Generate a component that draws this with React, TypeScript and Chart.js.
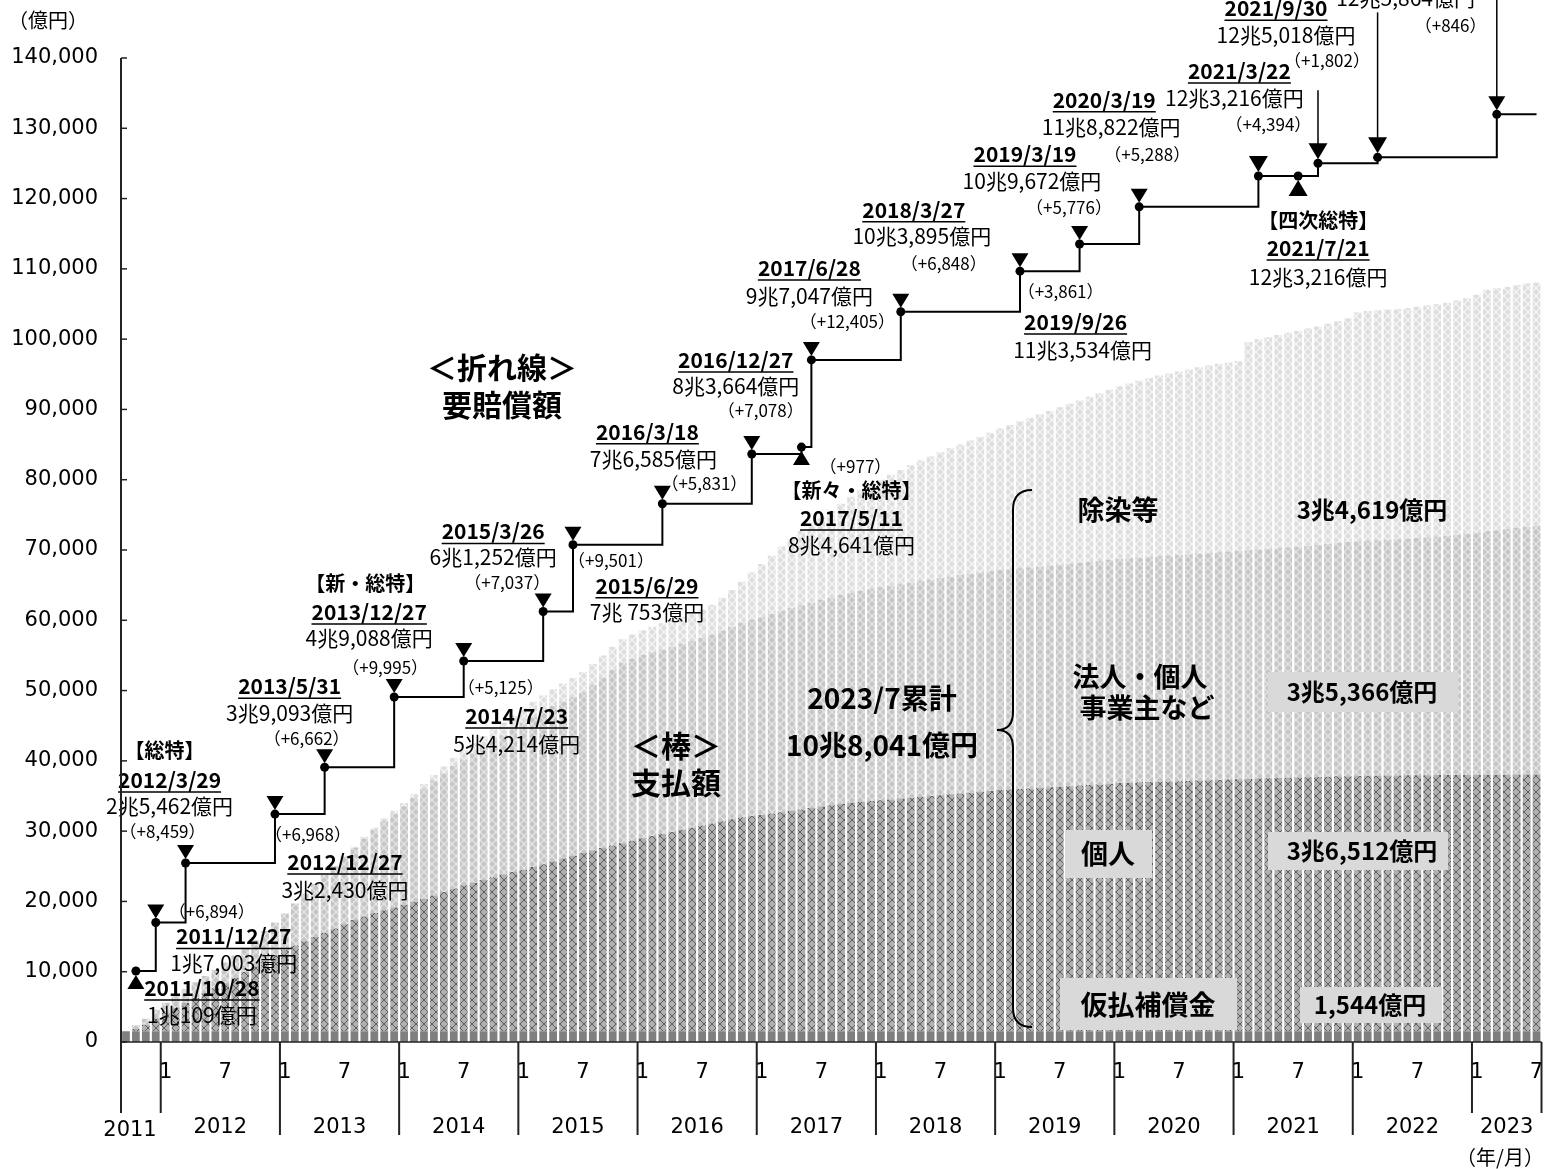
import React, { useEffect, useRef } from "react";
import { Chart, registerables } from "chart.js";
Chart.register(...registerables);

// ---------- categories (monthly, 2011/9 .. 2023/7) ----------
const START_YEAR = 2011;
const START_MONTH = 9;
const END_YEAR = 2023;
const END_MONTH = 7;
const CATEGORIES: string[] = [];
for (let y = START_YEAR; y <= END_YEAR; y++) {
  const m0 = y === START_YEAR ? START_MONTH : 1;
  const m1 = y === END_YEAR ? END_MONTH : 12;
  for (let m = m0; m <= m1; m++) CATEGORIES.push(`${y}/${m}`);
}
const YEARS = [2011, 2012, 2013, 2014, 2015, 2016, 2017, 2018, 2019, 2020, 2021, 2022, 2023];
const MONTH_TICKS = ["1", "7"];
const Y_TICKS = [0, 10000, 20000, 30000, 40000, 50000, 60000, 70000, 80000, 90000, 100000, 110000, 120000, 130000, 140000];

// ---------- bar series (億円, cumulative) ----------
const KARIBARAI = [
  1544, 1544, 1544, 1544,
  1544, 1544, 1544, 1544, 1544, 1544, 1544, 1544, 1544, 1544, 1544, 1544,
  1544, 1544, 1544, 1544, 1544, 1544, 1544, 1544, 1544, 1544, 1544, 1544,
  1544, 1544, 1544, 1544, 1544, 1544, 1544, 1544, 1544, 1544, 1544, 1544,
  1544, 1544, 1544, 1544, 1544, 1544, 1544, 1544, 1544, 1544, 1544, 1544,
  1544, 1544, 1544, 1544, 1544, 1544, 1544, 1544, 1544, 1544, 1544, 1544,
  1544, 1544, 1544, 1544, 1544, 1544, 1544, 1544, 1544, 1544, 1544, 1544,
  1544, 1544, 1544, 1544, 1544, 1544, 1544, 1544, 1544, 1544, 1544, 1544,
  1544, 1544, 1544, 1544, 1544, 1544, 1544, 1544, 1544, 1544, 1544, 1544,
  1544, 1544, 1544, 1544, 1544, 1544, 1544, 1544, 1544, 1544, 1544, 1544,
  1544, 1544, 1544, 1544, 1544, 1544, 1544, 1544, 1544, 1544, 1544, 1544,
  1544, 1544, 1544, 1544, 1544, 1544, 1544, 1544, 1544, 1544, 1544, 1544,
  1544, 1544, 1544, 1544, 1544, 1544, 1544,
];
const KOJIN = [
  0, 300, 900, 1800,
  2600, 3300, 4000, 4700, 5400, 6100, 6800, 7600, 8400, 9200, 10000, 10800,
  11550, 12200, 12800, 13400, 14000, 14600, 15200, 15800, 16300, 16800, 17200, 17600,
  18000, 18400, 18800, 19300, 19800, 20300, 20750, 21100, 21500, 21900, 22300, 22650,
  22950, 23350, 23750, 24150, 24550, 24950, 25350, 25700, 26050, 26400, 26750, 27100,
  27450, 27750, 28050, 28350, 28650, 28950, 29250, 29550, 29850, 30150, 30450, 30600,
  30750, 30950, 31150, 31350, 31550, 31750, 31950, 32150, 32350, 32500, 32650, 32750,
  32850, 32970, 33090, 33210, 33330, 33450, 33570, 33690, 33810, 33930, 34050, 34180,
  34300, 34380, 34460, 34540, 34620, 34700, 34780, 34860, 34940, 35020, 35100, 35200,
  35300, 35350, 35400, 35440, 35480, 35520, 35560, 35600, 35650, 35700, 35750, 35800,
  35850, 35890, 35930, 35970, 36010, 36050, 36090, 36130, 36170, 36210, 36250, 36280,
  36300, 36320, 36340, 36360, 36380, 36400, 36410, 36420, 36430, 36440, 36450, 36460,
  36470, 36475, 36480, 36490, 36500, 36505, 36512,
];
const HOUJIN = [
  0, 550, 850, 1250,
  1450, 1650, 1950, 2250, 2450, 2650, 2950, 3150, 3450, 3750, 4250, 4650,
  5200, 5950, 6750, 7550, 8250, 8850, 9600, 10250, 11100, 11850, 12700, 13350,
  14000, 14800, 15700, 16350, 16900, 17450, 17950, 18450, 18900, 19350, 19800, 20350,
  20950, 21350, 21750, 22100, 22350, 22600, 22850, 23550, 24250, 25000, 25650, 25900,
  26050, 26150, 26250, 26350, 26450, 26550, 26700, 26900, 27150, 27400, 27650, 27900,
  28150, 28400, 28650, 28850, 29050, 29250, 29400, 29550, 29700, 29850, 30000, 30150,
  30300, 30400, 30500, 30600, 30700, 30800, 30900, 31000, 31100, 31150, 31200, 31250,
  31300, 31350, 31400, 31450, 31500, 31550, 31600, 31650, 31700, 31750, 31800, 31850,
  31900, 31950, 32000, 32050, 32100, 32150, 32200, 32250, 32300, 32350, 32400, 32450,
  32500, 32550, 32600, 32650, 32700, 32750, 32800, 32900, 33000, 33100, 33200, 33300,
  33400, 33450, 33500, 33550, 33600, 33650, 33750, 33850, 33950, 34050, 34150, 34300,
  34450, 34650, 34800, 34950, 35100, 35250, 35366,
];
const JOSEN = [
  0, 0, 0, 0,
  0, 0, 0, 0, 0, 0, 0, 0, 0, 0, 0, 0,
  0, 0, 0, 0, 0, 100, 150, 200, 250, 300, 350, 400,
  450, 550, 650, 800, 950, 1100, 1250, 1400, 1550, 1700, 1850, 1950,
  2050, 2150, 2250, 2400, 2550, 2700, 2850, 3000, 3150, 3250, 3350, 3450,
  3550, 3650, 3750, 3800, 3850, 3900, 4000, 4200, 4650, 5200, 5850, 6750,
  7550, 8300, 9150, 9850, 10550, 11150, 11700, 12350, 13000, 13700, 14300, 14850,
  15300, 15800, 16250, 16750, 17150, 17500, 17900, 18250, 18550, 18950, 19300, 19700,
  20150, 20500, 20900, 21250, 21650, 22000, 22400, 22750, 23100, 23500, 23850, 24200,
  24550, 24850, 25150, 25450, 25700, 25900, 26100, 26300, 26500, 26700, 26800, 26900,
  27000, 29600, 29900, 30150, 30350, 30550, 30750, 30950, 31100, 31350, 31600, 31850,
  32550, 32700, 32720, 32750, 32780, 32800, 32900, 33000, 33050, 33150, 33350, 33500,
  33850, 34350, 34400, 34450, 34550, 34600, 34619,
];

// ---------- step line: 要賠償額 ----------
const EVENT_MONTHS = [
  "2011/10", "2011/12", "2012/3", "2012/12", "2013/5", "2013/12", "2014/7", "2015/3",
  "2015/6", "2016/3", "2016/12", "2017/5", "2017/6", "2018/3", "2019/3", "2019/9",
  "2020/3", "2021/3", "2021/7", "2021/9", "2022/3", "2023/3", "2023/7",
];
const EVENT_VALUES = [
  10109, 17003, 25462, 32430, 39093, 49088, 54214, 61252,
  70753, 76585, 83664, 84641, 97047, 103895, 109672, 113534,
  118822, 123216, 123216, 125018, 125864, 131980, 131980,
];
const UP_MARKER_MONTHS = ["2011/10", "2017/5", "2021/7"];
const BIG_MARKER_MONTHS = ["2021/3", "2021/7", "2021/9", "2022/3"];
const LINE_END = "2023/7";

const LINE_DATA: (number | null)[] = CATEGORIES.map((c) => {
  const k = EVENT_MONTHS.indexOf(c);
  return k >= 0 ? EVENT_VALUES[k] : null;
});

// annotation texts: [kind, text, dx, dy] relative to the event point
type Item = [string, string, number, number];
const NOTES: { m: string; items: Item[]; leaderFrom?: number }[] = [
  { m: "2011/10", items: [["date", "2011/10/28", 66, 17], ["val", "1兆109億円", 66, 44]] },
  { m: "2011/12", items: [["delta", "（+6,894）", 56, -11], ["date", "2011/12/27", 78, 14], ["val", "1兆7,003億円", 78, 41]] },
  { m: "2012/3", items: [["tag", "【総特】", -21, -113], ["date", "2012/3/29", -16, -83], ["val", "2兆5,462億円", -16, -57], ["delta", "（+8,459）", -23, -31]] },
  { m: "2012/12", items: [["delta", "（+6,968）", 33, 20], ["date", "2012/12/27", 70, 48], ["val", "3兆2,430億円", 70, 76]] },
  { m: "2013/5", items: [["date", "2013/5/31", -35, -81], ["val", "3兆9,093億円", -35, -54], ["delta", "（+6,662）", -18, -29]] },
  { m: "2013/12", items: [["tag", "【新・総特】", -29, -114], ["date", "2013/12/27", -25, -85], ["val", "4兆9,088億円", -25, -59], ["delta", "（+9,995）", -9, -29]] },
  { m: "2014/7", items: [["delta", "（+5,125）", 37, 27], ["date", "2014/7/23", 53, 55], ["val", "5兆4,214億円", 53, 83]] },
  { m: "2015/3", items: [["date", "2015/3/26", -50, -80], ["val", "6兆1,252億円", -50, -54], ["delta", "（+7,037）", -36, -29]] },
  { m: "2015/6", items: [["delta", "（+9,501）", 38, 16], ["date", "2015/6/29", 74, 41], ["val", "7兆 753億円", 74, 67]] },
  { m: "2016/3", items: [["date", "2016/3/18", -15, -72], ["val", "7兆6,585億円", -9, -45], ["delta", "（+5,831）", 42, -20]] },
  { m: "2016/12", items: [["date", "2016/12/27", -16, -94], ["val", "8兆3,664億円", -16, -68], ["delta", "（+7,078）", 9, -43]] },
  { m: "2017/5", items: [["delta", "（+977）", 54, 19], ["tag", "【新々・総特】", 50, 43], ["date", "2017/5/11", 50, 71], ["val", "8兆4,641億円", 50, 98]] },
  { m: "2017/6", items: [["date", "2017/6/28", -2, -92], ["val", "9兆7,047億円", -2, -64], ["delta", "（+12,405）", 36, -38]] },
  { m: "2018/3", items: [["date", "2018/3/27", 13, -102], ["val", "10兆3,895億円", 21, -76], ["delta", "（+6,848）", 43, -48]] },
  { m: "2019/3", items: [["date", "2019/3/19", 5, -117], ["val", "10兆9,672億円", 12, -90], ["delta", "（+5,776）", 49, -64]] },
  { m: "2019/9", items: [["delta", "（+3,861）", -19, 48], ["date", "2019/9/26", -4, 78], ["val", "11兆3,534億円", 3, 106]] },
  { m: "2020/3", items: [["date", "2020/3/19", -35, -107], ["val", "11兆8,822億円", -28, -80], ["delta", "（+5,288）", 8, -52]] },
  { m: "2021/3", items: [["date", "2021/3/22", -19, -105], ["val", "12兆3,216億円", -24, -78], ["delta", "（+4,394）", 10, -51]] },
  { m: "2021/7", items: [["tag", "【四次総特】", 20, 44], ["date", "2021/7/21", 20, 72], ["val", "12兆3,216億円", 20, 101]] },
  { m: "2021/9", items: [["date", "2021/9/30", -42, -155], ["val", "12兆5,018億円", -32, -128], ["delta", "（+1,802）", 9, -103]], leaderFrom: -73 },
  { m: "2022/3", items: [["val", "12兆5,864億円", 28, -159], ["delta", "（+846）", 73, -132]], leaderFrom: -145 },
  { m: "2023/3", items: [], leaderFrom: -130 },
];

const JP = '"Noto Sans CJK JP", sans-serif';
const NUM = '"DejaVu Sans", "Noto Sans CJK JP", sans-serif';

function makePattern(bg: string, fg: string, size: number, lw: number): CanvasPattern | string {
  const c = document.createElement("canvas");
  c.width = size;
  c.height = size;
  const g = c.getContext("2d");
  if (!g) return bg;
  g.fillStyle = bg;
  g.fillRect(0, 0, size, size);
  g.strokeStyle = fg;
  g.lineWidth = lw;
  g.beginPath();
  g.moveTo(0, 0);
  g.lineTo(size, size);
  g.moveTo(size, 0);
  g.lineTo(0, size);
  g.stroke();
  const p = g.createPattern(c, "repeat");
  return p || bg;
}

function text(ctx: CanvasRenderingContext2D, s: string, x: number, y: number, font: string, align: CanvasTextAlign = "center", underline = false) {
  ctx.font = font;
  ctx.textAlign = align;
  ctx.textBaseline = "middle";
  ctx.fillStyle = "#000";
  ctx.fillText(s, x, y);
  if (underline) {
    const w = ctx.measureText(s).width;
    const x0 = align === "center" ? x - w / 2 : align === "right" ? x - w : x;
    ctx.beginPath();
    ctx.strokeStyle = "#000";
    ctx.lineWidth = 1.5;
    ctx.moveTo(x0, y + 12);
    ctx.lineTo(x0 + w, y + 12);
    ctx.stroke();
  }
}

function box(ctx: CanvasRenderingContext2D, x: number, y: number, w: number, h: number) {
  ctx.fillStyle = "#d9d9d9";
  ctx.fillRect(x, y, w, h);
}

const overlay = {
  id: "overlay",
  afterDatasetsDraw(chart: any) {
    const ctx: CanvasRenderingContext2D = chart.ctx;
    const xs = chart.scales.x;
    const ys = chart.scales.y;
    const a = chart.chartArea;
    const slot = (a.right - a.left) / CATEGORIES.length;
    const meta = chart.getDatasetMeta(0);
    ctx.save();

    // markers
    EVENT_MONTHS.forEach((m) => {
      if (m === LINE_END) return;
      const i = CATEGORIES.indexOf(m);
      const p = meta.data[i];
      if (!p) return;
      const big = BIG_MARKER_MONTHS.includes(m);
      const w = big ? 19 : 17;
      const h = big ? 16 : 14;
      ctx.fillStyle = "#000";
      ctx.beginPath();
      if (UP_MARKER_MONTHS.includes(m)) {
        ctx.moveTo(p.x, p.y + 4);
        ctx.lineTo(p.x - w / 2, p.y + 4 + h);
        ctx.lineTo(p.x + w / 2, p.y + 4 + h);
      } else {
        ctx.moveTo(p.x, p.y - 4);
        ctx.lineTo(p.x - w / 2, p.y - 4 - h);
        ctx.lineTo(p.x + w / 2, p.y - 4 - h);
      }
      ctx.closePath();
      ctx.fill();
    });

    // annotation texts
    NOTES.forEach((n) => {
      const i = CATEGORIES.indexOf(n.m);
      const p = meta.data[i];
      if (!p) return;
      n.items.forEach(([kind, s, dx, dy]) => {
        const x = p.x + dx;
        const y = p.y + dy;
        if (kind === "date") text(ctx, s, x, y, `bold 21px ${JP}`, "center", true);
        else if (kind === "val") text(ctx, s, x, y, `21px ${JP}`);
        else if (kind === "delta") text(ctx, s, x, y, `17px ${JP}`);
        else text(ctx, s, x, y, `bold 20px ${JP}`);
      });
      if (n.leaderFrom !== undefined) {
        const big = BIG_MARKER_MONTHS.includes(n.m);
        const h = big ? 16 : 14;
        ctx.beginPath();
        ctx.strokeStyle = "#000";
        ctx.lineWidth = 1.5;
        ctx.moveTo(p.x, p.y + n.leaderFrom);
        ctx.lineTo(p.x, p.y - 4 - h + 1);
        ctx.stroke();
      }
    });

    // y axis
    const yTop = ys.getPixelForValue(Y_TICKS[Y_TICKS.length - 1]);
    ctx.strokeStyle = "#222";
    ctx.lineWidth = 2;
    ctx.beginPath();
    ctx.moveTo(a.left, yTop);
    ctx.lineTo(a.left, a.bottom + 71);
    ctx.stroke();
    Y_TICKS.forEach((v) => {
      const y = ys.getPixelForValue(v);
      ctx.beginPath();
      ctx.lineWidth = 1.5;
      ctx.moveTo(a.left, y);
      ctx.lineTo(a.left + 6, y);
      ctx.stroke();
      text(ctx, v.toLocaleString("en-US"), a.left - 23, y, `21px ${NUM}`, "right");
    });
    text(ctx, "（億円）", 48, 20, `20px ${JP}`);

    // x axis
    ctx.beginPath();
    ctx.lineWidth = 1.5;
    ctx.moveTo(a.left, a.bottom);
    ctx.lineTo(a.right, a.bottom);
    ctx.stroke();
    const bounds: number[] = [a.left];
    YEARS.forEach((yr) => {
      if (yr === START_YEAR) return;
      const i = CATEGORIES.indexOf(`${yr}/1`);
      const bx = xs.getPixelForValue(i) - slot / 2;
      bounds.push(bx);
      const short = yr === START_YEAR + 1 || yr === END_YEAR;
      ctx.beginPath();
      ctx.lineWidth = 2;
      ctx.moveTo(bx, a.bottom);
      ctx.lineTo(bx, a.bottom + (short ? 71 : 93));
      ctx.stroke();
      MONTH_TICKS.forEach((mt) => {
        const j = CATEGORIES.indexOf(`${yr}/${mt}`);
        if (j >= 0) text(ctx, mt, xs.getPixelForValue(j), a.bottom + 31, `21px ${NUM}`);
      });
    });
    bounds.push(a.right);
    ctx.beginPath();
    ctx.moveTo(a.right, a.bottom);
    ctx.lineTo(a.right, a.bottom + 71);
    ctx.stroke();
    YEARS.forEach((yr, k) => {
      const x0 = bounds[k];
      const x1 = bounds[k + 1];
      let cx = (x0 + x1) / 2;
      let cy = a.bottom + 86;
      if (yr === START_YEAR) {
        cx = x0 + 9;
        cy = a.bottom + 89;
      }
      text(ctx, String(yr), cx, cy, `21px ${NUM}`);
    });
    text(ctx, "（年/月）", 1500, a.bottom + 115, `20px ${JP}`);

    // big labels
    text(ctx, "＜折れ線＞", 502, 368, `bold 30px ${JP}`);
    text(ctx, "要賠償額", 502, 405, `bold 30px ${JP}`);
    text(ctx, "＜棒＞", 676, 746, `bold 30px ${JP}`);
    text(ctx, "支払額", 676, 783, `bold 30px ${JP}`);
    text(ctx, "2023/7累計", 882, 698, `bold 28px ${JP}`);
    text(ctx, "10兆8,041億円", 882, 745, `bold 28px ${JP}`);

    // brace
    ctx.beginPath();
    ctx.strokeStyle = "#000";
    ctx.lineWidth = 2;
    ctx.moveTo(1032, 490);
    ctx.quadraticCurveTo(1013, 490, 1013, 510);
    ctx.lineTo(1013, 712);
    ctx.quadraticCurveTo(1013, 730, 997, 730);
    ctx.quadraticCurveTo(1013, 730, 1013, 748);
    ctx.lineTo(1013, 1008);
    ctx.quadraticCurveTo(1013, 1027, 1032, 1027);
    ctx.stroke();

    // category labels
    text(ctx, "除染等", 1118, 510, `bold 27px ${JP}`);
    text(ctx, "3兆4,619億円", 1372, 510, `bold 24px ${JP}`);
    text(ctx, "法人・個人", 1140, 677, `bold 27px ${JP}`);
    text(ctx, "事業主など", 1147, 708, `bold 27px ${JP}`);
    box(ctx, 1268, 672, 190, 40);
    text(ctx, "3兆5,366億円", 1362, 692, `bold 24px ${JP}`);
    box(ctx, 1065, 830, 87, 48);
    text(ctx, "個人", 1108, 854, `bold 27px ${JP}`);
    box(ctx, 1268, 832, 180, 38);
    text(ctx, "3兆6,512億円", 1362, 851, `bold 24px ${JP}`);
    box(ctx, 1060, 978, 177, 52);
    text(ctx, "仮払補償金", 1148, 1005, `bold 27px ${JP}`);
    box(ctx, 1300, 987, 142, 36);
    text(ctx, "1,544億円", 1370, 1005, `bold 24px ${JP}`);

    ctx.restore();
  },
};

export default function App() {
  const ref = useRef<HTMLCanvasElement | null>(null);
  useEffect(() => {
    document.body.style.margin = "0";
    document.body.style.overflow = "hidden";
    const canvas = ref.current;
    if (!canvas) return;
    const pKojin = makePattern("#b0b0b0", "#5e5e5e", 8, 1);
    const pHoujin = makePattern("#c6c6c6", "#e8e8e8", 8, 1.2);
    const pJosen = makePattern("#dedede", "#f7f7f7", 8, 1.2);
    const barCommon = { barPercentage: 0.78, categoryPercentage: 1.0, borderWidth: 0, order: 1 };
    const chart = new Chart(canvas, {
      type: "bar",
      data: {
        labels: CATEGORIES,
        datasets: [
          {
            type: "line",
            label: "要賠償額",
            data: LINE_DATA,
            stack: "line",
            order: 0,
            borderColor: "#000",
            borderWidth: 2,
            stepped: "before",
            spanGaps: true,
            fill: false,
            pointRadius: (c: any) => (CATEGORIES[c.dataIndex] === LINE_END ? 0 : 4.5),
            pointBackgroundColor: "#000",
            pointBorderWidth: 0,
          } as any,
          { label: "仮払補償金", data: KARIBARAI, backgroundColor: "#7f7f7f", ...barCommon },
          { label: "個人", data: KOJIN, backgroundColor: pKojin as any, ...barCommon },
          { label: "法人・個人事業主など", data: HOUJIN, backgroundColor: pHoujin as any, ...barCommon },
          { label: "除染等", data: JOSEN, backgroundColor: pJosen as any, ...barCommon },
        ],
      },
      options: {
        responsive: false,
        animation: false,
        layout: { padding: { left: 121, right: 1, top: 58, bottom: 127 } },
        plugins: { legend: { display: false }, tooltip: { enabled: false }, title: { display: false } },
        scales: {
          x: { display: false, stacked: true, offset: true },
          y: { display: false, stacked: true, min: 0, max: 140000 },
        },
      },
      plugins: [overlay],
    });
    return () => chart.destroy();
  }, []);
  return (
    <div style={{ position: "absolute", left: 0, top: 0, width: 1546, height: 1169, background: "#fff" }}>
      <canvas ref={ref} width={1546} height={1169} />
    </div>
  );
}
